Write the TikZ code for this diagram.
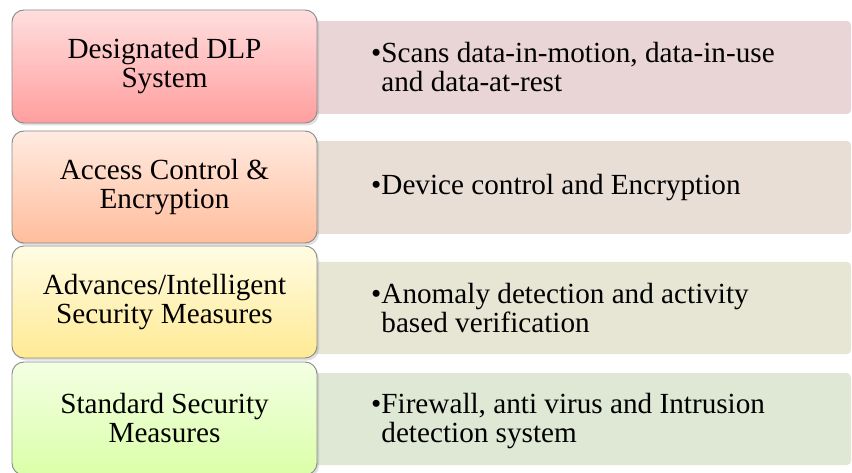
\documentclass[tikz,border=0pt]{standalone}
\usepackage{fontspec}
\setmainfont{Liberation Serif}
\usetikzlibrary{shadows}
\definecolor{r1}{HTML}{E9D5D5}
\definecolor{r2}{HTML}{E8DED6}
\definecolor{r3}{HTML}{E7E6D5}
\definecolor{r4}{HTML}{DFE7D5}
\definecolor{l1t}{HTML}{FFDEDE}
\definecolor{l1b}{HTML}{FF9E9E}
\definecolor{l2t}{HTML}{FFEBE1}
\definecolor{l2b}{HTML}{FFBD9C}
\definecolor{l3t}{HTML}{FFFCE3}
\definecolor{l3b}{HTML}{FFEA94}
\definecolor{l4t}{HTML}{F3FFE4}
\definecolor{l4b}{HTML}{DBFFA8}
\definecolor{bordergray}{HTML}{8A8A8A}
\tikzset{
  txt/.style={font=\fontsize{29.2}{29}\selectfont, text=black},
  rightbox/.style={draw=none, rounded corners=4pt, minimum width=561pt, inner sep=0pt},
  leftbox/.style={draw=bordergray, line width=0.9pt, rounded corners=12pt,
    minimum width=305pt, inner sep=0pt, align=center, txt,
    drop shadow={opacity=0.25, shadow xshift=2pt, shadow yshift=-2.5pt}},
  bullettext/.style={anchor=west, align=left, txt, inner sep=0pt}
}
\begin{document}
\begin{tikzpicture}[x=1pt, y=-1pt]
\useasboundingbox (0,0) rectangle (852,473);
\clip (0,0) rectangle (852,473);
% right boxes
\node[rightbox, fill=r1, minimum height=93pt] (r1) at (570.5,67.5) {};
\node[rightbox, fill=r2, minimum height=93pt] (r2) at (570.5,187.5) {};
\node[rightbox, fill=r3, minimum height=92pt] (r3) at (570.5,308) {};
\node[rightbox, fill=r4, minimum height=92pt] (r4) at (570.5,419) {};
% right texts
\node[bullettext] (t1) at (371,67.5) {\textbullet Scans data-in-motion, data-in-use\\\phantom{\textbullet}and data-at-rest};
\node[bullettext] (t2) at (371,187.5) {\textbullet Device control and Encryption};
\node[bullettext] (t3) at (371,308) {\textbullet Anomaly detection and activity\\\phantom{\textbullet}based verification};
\node[bullettext] (t4) at (371,421) {\textbullet Firewall, anti virus and Intrusion\\\phantom{\textbullet}detection system};
% left boxes
\node[leftbox, top color=l1t, bottom color=l1b, minimum height=113pt] (l1) at (164.5,66.5) {Designated DLP\\System};
\node[leftbox, top color=l2t, bottom color=l2b, minimum height=112pt] (l2) at (164.5,187) {Access Control \&\\Encryption};
\node[leftbox, top color=l3t, bottom color=l3b, minimum height=112pt] (l3) at (164.5,302) {Advances/Intelligent\\Security Measures};
\node[leftbox, top color=l4t, bottom color=l4b, minimum height=113pt] (l4) at (164.5,418.5) {Standard Security\\Measures};
\end{tikzpicture}
\end{document}
